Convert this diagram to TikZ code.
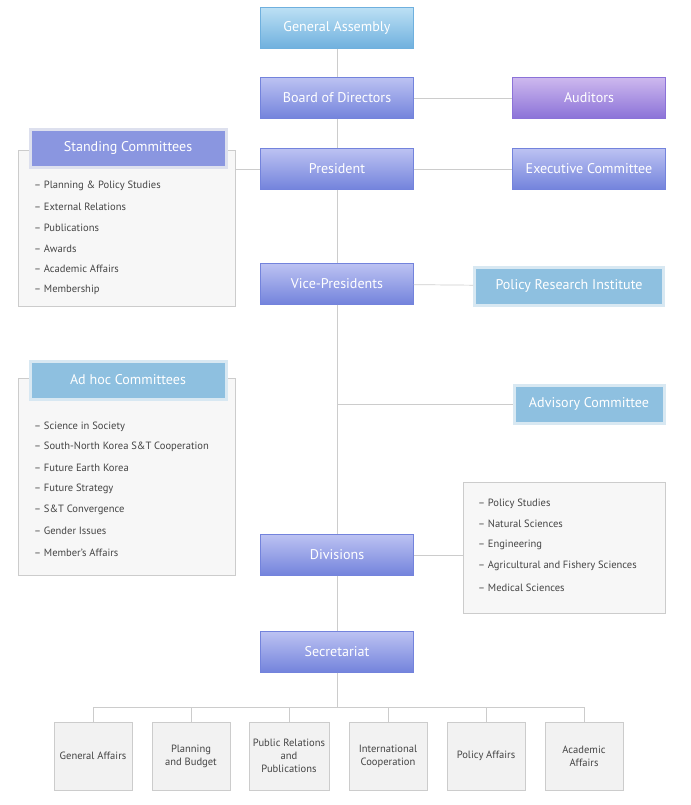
\documentclass[tikz,border=0pt]{standalone}
\usepackage{fontspec}
\setmainfont{PT Sans}
\usepackage{tikz}
\definecolor{gaTop}{HTML}{BCE0F4}
\definecolor{gaBot}{HTML}{6FB0DE}
\definecolor{bluTop}{HTML}{BCC2F2}
\definecolor{bluBot}{HTML}{7383DC}
\definecolor{vioTop}{HTML}{CDB8EE}
\definecolor{vioBot}{HTML}{8B72D8}
\definecolor{skyFill}{HTML}{8EC0E0}
\definecolor{skyEdge}{HTML}{D8E8F2}
\definecolor{lavFill}{HTML}{8A96E0}
\definecolor{lavEdge}{HTML}{DDE0EE}
\definecolor{lineGray}{HTML}{CCCCCC}
\definecolor{textGray}{HTML}{444444}
\tikzset{
  unit/.style={draw=bluBot, minimum width=153*0.03cm, minimum height=41*0.03cm,
    top color=bluTop, bottom color=bluBot,
    text=white, font=\large},
  flat/.style={draw=skyEdge, line width=3*0.03cm, fill=skyFill, minimum height=38*0.03cm,
    text=white, font=\large},
  frame/.style={draw=lineGray, fill=gray!6},
  item/.style={anchor=west, text=textGray, font=\small},
  office/.style={draw=lineGray, fill=gray!10, minimum width=78*0.03cm,
    minimum height=68*0.03cm, align=center, text=textGray, font=\small},
  link/.style={draw=lineGray, line width=0.6pt}
}
\begin{document}
\begin{tikzpicture}[x=0.03cm, y=-0.03cm]
        \useasboundingbox (0,0) rectangle (690,805);

        % Frames for committees and divisions
        \draw[frame] (18,150) rectangle (235,306);
        \draw[frame] (18,378) rectangle (235,575);
        \draw[frame] (463,482) rectangle (665,613);

        % Main line
        \node[unit, top color=gaTop, bottom color=gaBot, draw=gaBot] (GA) at (337,28) {General Assembly};
        \node[unit] (BD) at (337,98) {Board of Directors};
        \node[unit] (PR) at (337,169) {President};
        \node[unit] (VP) at (337,284) {Vice-Presidents};
        \node[unit] (DV) at (337,555) {Divisions};
        \node[unit] (SC) at (337,652) {Secretariat};
        \coordinate (AJ) at (337,404);
        \coordinate (BJ) at (337,707);

        % Side units
        \node[unit, top color=vioTop, bottom color=vioBot, draw=vioBot] (AU) at (589,98) {Auditors};
        \node[unit] (EC) at (589,169) {Executive Committee};
        \node[flat, minimum width=189*0.03cm] (PRI) at (569,286) {Policy Research Institute};
        \node[flat, minimum width=150*0.03cm] (AC) at (589,404) {Advisory Committee};
        \node[flat, fill=lavFill, draw=lavEdge, minimum width=196*0.03cm] (STC) at (128,148) {Standing Committees};
        \node[flat, minimum width=196*0.03cm] (AHC) at (128,380) {Ad hoc Committees};
        \coordinate (SF) at (235,169);
        \coordinate (DF) at (463,555);

        % Connectors
        \draw[link] (GA) -- (BD) -- (PR) -- (VP) -- (DV) -- (SC) -- (BJ);
        \draw[link] (BD) -- (AU);
        \draw[link] (PR) -- (EC);
        \draw[link] (PR) -- (SF);
        \draw[link] (VP) -- (PRI);
        \draw[link] (AJ) -- (AC);
        \draw[link] (DV) -- (DF);

        % Committee lists
        \node[item] at (30,186) {– Planning \& Policy Studies};
        \node[item] at (30,207) {– External Relations};
        \node[item] at (30,228) {– Publications};
        \node[item] at (30,249) {– Awards};
        \node[item] at (30,269) {– Academic Affairs};
        \node[item] at (30,290) {– Membership};

        \node[item] at (30,427) {– Science in Society};
        \node[item] at (30,447) {– South-North Korea S\&T Cooperation};
        \node[item] at (30,468) {– Future Earth Korea};
        \node[item] at (30,489) {– Future Strategy};
        \node[item] at (30,510) {– S\&T Convergence};
        \node[item] at (30,531) {– Gender Issues};
        \node[item] at (30,553) {– Member's Affairs};

        \node[item] at (474,504) {– Policy Studies};
        \node[item] at (474,524) {– Natural Sciences};
        \node[item] at (474,545) {– Engineering};
        \node[item] at (474,566) {– Agricultural and Fishery Sciences};
        \node[item] at (474,588) {– Medical Sciences};

        % Secretariat offices
        \foreach \x/\name/\txt in {93/O1/General Affairs, 191/O2/Planning\\and Budget,
            289/O3/Public Relations\\and\\Publications, 388/O4/International\\Cooperation,
            486/O5/Policy Affairs, 584/O6/Academic\\Affairs} {
          \node[office] (\name) at (\x,756) {\txt};
          \coordinate (\name t) at (\x,707);
          \draw[link] (\name t) -- (\name);
        }
        \draw[link] (O1t) -- (O6t);
\end{tikzpicture}
\end{document}
